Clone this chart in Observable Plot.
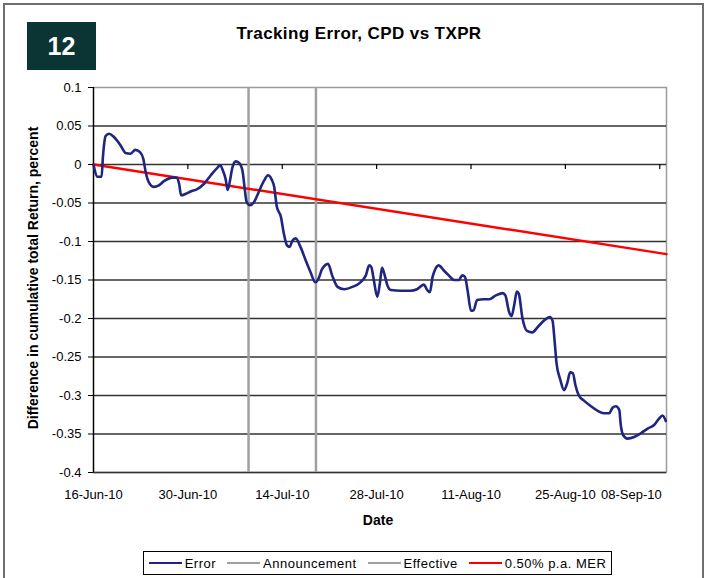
<!DOCTYPE html>
<html><head><meta charset="utf-8">
<script src="https://cdn.jsdelivr.net/npm/d3@7"></script>
<script src="https://cdn.jsdelivr.net/npm/@observablehq/plot@0.6"></script>
<style>
body{margin:0;background:#fff;font-family:"Liberation Sans",Arial,sans-serif;}
#wrap{position:relative;width:706px;height:578px;overflow:hidden;background:#fff;}
#wrap svg{position:absolute;left:0;top:0;}
#frame{position:absolute;left:3px;top:3px;width:697px;height:600px;border:2px solid #6e6e6e;pointer-events:none;}
#badge{position:absolute;left:27px;top:22px;width:69px;height:48px;background:#0b3434;color:#fff;font-weight:bold;font-size:25px;display:flex;align-items:center;justify-content:center;}
#title{position:absolute;left:0;width:718px;top:24px;text-align:center;font-weight:bold;font-size:17px;letter-spacing:0.4px;color:#000;}
#ytitle{position:absolute;left:33px;top:278px;transform:translate(-50%,-50%) rotate(-90deg);white-space:nowrap;font-weight:bold;font-size:14px;}
#xtitle{position:absolute;left:378px;top:512px;transform:translateX(-50%);font-weight:bold;font-size:14px;}
#legend{position:absolute;left:143px;top:551px;width:467px;height:22px;border:1px solid #000;display:flex;align-items:center;justify-content:center;gap:11px;font-size:13px;letter-spacing:0.5px;}
#legend span.it{display:flex;align-items:center;gap:3px;}
#legend span.sw{display:inline-block;width:33px;height:0;border-top:2.5px solid;}
</style></head>
<body>
<div id="wrap">
  <div id="badge">12</div>
  <div id="title">Tracking Error, CPD vs TXPR</div>
  <div id="ytitle">Difference in cumulative total Return, percent</div>
  <div id="xtitle">Date</div>
  <div id="legend"></div>
  <div id="frame"></div>
</div>
<script>
const startDate = "2010-06-16";
const endDate = "2010-09-09";
const xTickDates = ["2010-06-16","2010-06-30","2010-07-14","2010-07-28","2010-08-11","2010-08-25","2010-09-08"];
const xTickLabels = ["16-Jun-10","30-Jun-10","14-Jul-10","28-Jul-10","11-Aug-10","25-Aug-10","08-Sep-10"];
const yTicks = [0.1,0.05,0,-0.05,-0.1,-0.15,-0.2,-0.25,-0.3,-0.35,-0.4];
const yTickLabels = ["0.1","0.05","0","-0.05","-0.1","-0.15","-0.2","-0.25","-0.3","-0.35","-0.4"];

// Error series: days since 16-Jun-10, value (percent)
const errorDays = [0,0.6,1.2,1.4,1.8,2.3,3.0,4.0,4.75,5.5,6.2,6.9,7.4,7.7,8.2,8.9,9.7,10.4,11.7,12.3,12.7,13.0,13.7,14.4,15.4,16.4,17.4,18.4,18.8,19.2,19.6,19.9,20.2,20.6,21.1,21.6,22.1,22.4,22.7,23.2,23.8,24.5,25.3,25.9,26.4,26.8,27.2,27.8,28.2,28.7,29.1,29.5,30.0,30.7,31.5,32.2,32.9,33.4,33.9,34.8,35.4,36.2,37.2,38.4,39.6,40.4,40.9,41.2,41.6,42.1,42.5,42.8,43.2,43.6,44.1,45.6,47.0,48.0,49.0,49.5,49.9,50.3,50.6,51.2,52.0,52.7,53.5,54.2,54.7,55.1,55.5,56.0,56.4,56.9,57.9,58.7,59.7,60.7,61.1,61.6,62.0,62.4,62.8,63.1,63.6,64.3,65.1,65.9,66.8,67.7,68.1,68.4,68.7,69.2,69.8,70.3,70.7,71.1,71.5,72.0,72.8,73.8,74.8,75.7,76.5,77.0,77.5,78.0,78.2,78.6,79.2,80.2,81.2,82.2,83.2,83.9,84.4,84.9];
const errorValues = [0,-0.016,-0.016,0.010,0.037,0.040,0.036,0.025,0.015,0.014,0.019,0.016,0.007,-0.008,-0.023,-0.029,-0.027,-0.022,-0.017,-0.017,-0.025,-0.040,-0.038,-0.035,-0.032,-0.025,-0.014,-0.004,-0.001,-0.008,-0.019,-0.033,-0.023,-0.004,0.004,0.002,-0.008,-0.029,-0.048,-0.053,-0.049,-0.036,-0.021,-0.014,-0.019,-0.029,-0.055,-0.068,-0.088,-0.105,-0.107,-0.099,-0.096,-0.107,-0.125,-0.140,-0.153,-0.148,-0.136,-0.129,-0.144,-0.159,-0.162,-0.159,-0.153,-0.144,-0.131,-0.133,-0.151,-0.172,-0.153,-0.134,-0.144,-0.157,-0.163,-0.164,-0.164,-0.162,-0.156,-0.163,-0.166,-0.146,-0.138,-0.131,-0.138,-0.144,-0.150,-0.150,-0.144,-0.146,-0.164,-0.190,-0.189,-0.176,-0.175,-0.175,-0.170,-0.167,-0.170,-0.190,-0.197,-0.183,-0.165,-0.168,-0.198,-0.216,-0.218,-0.211,-0.203,-0.198,-0.203,-0.229,-0.259,-0.278,-0.293,-0.283,-0.270,-0.271,-0.287,-0.300,-0.307,-0.314,-0.320,-0.323,-0.323,-0.316,-0.314,-0.319,-0.337,-0.352,-0.356,-0.354,-0.349,-0.343,-0.338,-0.330,-0.326,-0.333];

const eventNames = ["Announcement","Effective"];
const eventDates = ["2010-07-09","2010-07-19"];
const merDates = ["2010-06-16","2010-09-09"];
const merValues = [0,-0.1164];

const seriesNames = ["Error","Announcement","Effective","0.50% p.a. MER"];
const seriesColors = ["#1f2580","#a0a0a0","#a0a0a0","#ff0000"];

const t0 = new Date(startDate);
const tEnd = new Date(endDate);
const errData = errorDays.map((d,i)=>({date:new Date(+t0 + d*864e5), value:errorValues[i]}));
const merData = merDates.map((d,i)=>({date:new Date(d), value:merValues[i]}));
const xTicks = xTickDates.map(d=>new Date(d));
const xLab = xTicks.map((d,i)=>({date:d, label:xTickLabels[i]}));
const lastI = xLab.length - 1;

const chart = Plot.plot({
  width:706, height:540,
  marginLeft:93, marginRight:40, marginTop:87, marginBottom:68,
  style:{fontFamily:'"Liberation Sans", Arial, sans-serif', fontSize:"13px", background:"transparent", color:"#000"},
  x:{type:"utc", domain:[t0,tEnd], label:null, axis:null},
  y:{domain:[-0.4,0.1], label:null},
  marks:[
    Plot.frame({stroke:"#9a9a9a", strokeWidth:1.5}),
    Plot.ruleY(yTicks.filter(d=>d<0.1), {stroke:"#333", strokeWidth:1.4}),
    Plot.ruleX(eventDates.map(d=>new Date(d)), {stroke:seriesColors[1], strokeWidth:2.5}),
    Plot.ruleX([t0], {stroke:"#000", strokeWidth:1.3}),
    Plot.ruleX(xTicks, {x:d=>d, y1:0, y2:-0.0065, stroke:"#000", strokeWidth:1.2}),
    Plot.line(merData, {x:"date", y:"value", stroke:seriesColors[3], strokeWidth:2.5}),
    Plot.line(errData, {x:"date", y:"value", stroke:seriesColors[0], strokeWidth:2.6, curve:"monotone-x"}),
    Plot.axisY(yTicks, {tickSize:5, tickPadding:7, label:null, tickFormat:(d)=>yTickLabels[yTicks.indexOf(d)]}),
    Plot.text(xLab.slice(0,lastI), {x:"date", y:()=>-0.4, text:"label", dy:22, textAnchor:"middle", fill:"#000"}),
    Plot.text(xLab.slice(lastI), {x:"date", y:()=>-0.4, text:"label", dy:22, textAnchor:"end", dx:2, fill:"#000"})
  ]
});
document.getElementById("wrap").insertBefore(chart, document.getElementById("badge"));

const legend = document.getElementById("legend");
seriesNames.forEach((n,i)=>{
  const it = document.createElement("span"); it.className="it";
  const sw = document.createElement("span"); sw.className="sw"; sw.style.borderTopColor = seriesColors[i];
  const tx = document.createElement("span"); tx.textContent = n;
  it.appendChild(sw); it.appendChild(tx); legend.appendChild(it);
});
</script>
</body></html>
